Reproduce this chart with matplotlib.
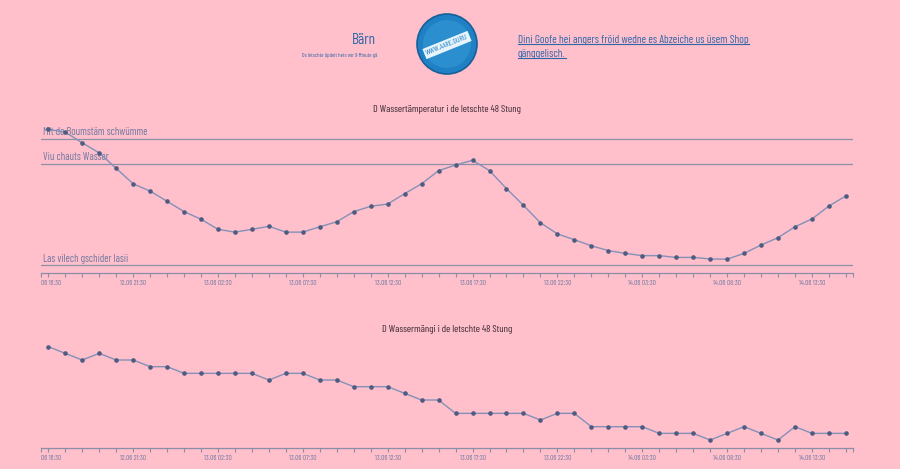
import matplotlib
matplotlib.use("Agg")
import matplotlib.pyplot as plt
import matplotlib.dates as mdates
import pandas as pd
from matplotlib.transforms import Bbox, TransformedBbox, blended_transform_factory
from matplotlib.patches import Circle
from matplotlib.lines import Line2D

# ---------------- data ----------------
times = pd.date_range("2024-06-12 16:30", periods=48, freq="h")
temperature = [20.36, 20.25, 19.83, 19.43, 18.82, 18.21, 17.92, 17.52, 17.11, 16.81,
               16.41, 16.30, 16.41, 16.53, 16.30, 16.30, 16.51, 16.71, 17.11, 17.32,
               17.41, 17.82, 18.21, 18.73, 18.95, 19.14, 18.73, 18.02, 17.36, 16.67,
               16.23, 16.00, 15.76, 15.57, 15.46, 15.37, 15.37, 15.30, 15.30, 15.24,
               15.23, 15.46, 15.79, 16.08, 16.51, 16.82, 17.33, 17.73]
flow = [262, 261, 260, 261, 260, 260, 259, 259, 258, 258,
        258, 258, 258, 257, 258, 258, 257, 257, 256, 256,
        256, 255, 254, 254, 252, 252, 252, 252, 252, 251,
        252, 252, 250, 250, 250, 250, 249, 249, 249, 248,
        249, 250, 249, 248, 250, 249, 249, 249]
thresholds = [20.0, 19.0, 15.0]
threshold_labels = ["Mit de Boumstäm schwümme", "Viu chauts Wasser", "Las vilech gschider lasii"]
title_temp = "D Wassertämperatur i de letschte 48 Stung"
title_flow = "D Wassermängi i de letschte 48 Stung"
city = "Bärn"
updated = "Ds letschte üpdeit hets vor 9 Minute gä"
shop_lines = ["Dini Goofe hei angers fröid wedne es Abzeiche us üsem Shop", "gänggelisch."]
logo_text = "WWW.AARE.GURU"
label_every = 5

# ---------------- style ----------------
W, H = 900, 469
BG = "#FFBFCB"
LINE = "#8391b8"
MARK = "#4f5b80"
REF = "#8c90a8"
REFTXT = "#6f78a0"
AXIS = "#8a8fa8"
TICKTXT = "#737ba2"
TITLE = "#3a2a32"
BLUE = "#2f66a8"
FONT = ["Barlow Condensed", "Roboto Condensed", "DejaVu Sans"]
plt.rcParams["font.family"] = FONT

fig = plt.figure(figsize=(W / 100, H / 100), dpi=100, facecolor=BG)


def fx(px):
    return px / W


def fy(py):
    return 1 - py / H


hour = 1 / 24.0
t0 = mdates.date2num(times[0])
t1 = mdates.date2num(times[-1])
xmin, xmax = t0 - 0.43 * hour, t1 + 0.42 * hour
xnum = mdates.date2num(times)

labels_all = [t.strftime("%d.%m %H:%M") if i % label_every == 0 else "" for i, t in enumerate(times)]


def setup_axis(ax):
    ax.set_facecolor("none")
    for s in ("top", "right", "left"):
        ax.spines[s].set_visible(False)
    ax.spines["bottom"].set_color(AXIS)
    ax.spines["bottom"].set_linewidth(0.9)
    ax.set_xlim(xmin, xmax)
    ax.set_xticks(list(xnum) + [xmin, xmax])
    ax.set_xticklabels(labels_all + ["", ""])
    ax.tick_params(axis="x", direction="out", length=3.2, width=0.8, color=AXIS,
                   labelsize=5.2, labelcolor=TICKTXT, pad=2.0)
    ax.set_yticks([])
    clipbox = TransformedBbox(Bbox.from_extents(fx(41), 0, 1, 1), fig.transFigure)
    lab = ax.get_xticklabels()[0]
    lab.set_clip_on(True)
    lab.set_clip_box(clipbox)


# ---------------- temperature chart ----------------
ax1 = fig.add_axes([fx(41), fy(273), fx(812), (273 - 125) / H])
setup_axis(ax1)
ax1.set_ylim(14.684, 20.534)
trans = blended_transform_factory(ax1.transAxes, ax1.transData)
for t, lab in zip(thresholds, threshold_labels):
    ax1.axhline(t, color=REF, lw=0.9, zorder=1)
    ax1.annotate(lab, xy=(0.0025, t), xycoords=trans, xytext=(0, 1.0),
                 textcoords="offset points", ha="left", va="bottom",
                 fontsize=7.6, color=REFTXT, zorder=2)
ax1.plot(xnum, temperature, color=LINE, lw=1.0, zorder=3, clip_on=False)
ax1.plot(xnum, temperature, ls="none", marker="o", ms=2.3, color=MARK, zorder=4, clip_on=False)
fig.text(fx(447), fy(110), title_temp, ha="center", va="center", fontsize=7.4, color=TITLE)

# ---------------- flow chart ----------------
ax2 = fig.add_axes([fx(41), fy(448), fx(812), (448 - 340) / H])
setup_axis(ax2)
ax2.set_ylim(246.805, 263.0)
ax2.plot(xnum, flow, color=LINE, lw=1.0, zorder=3, clip_on=False)
ax2.plot(xnum, flow, ls="none", marker="o", ms=2.3, color=MARK, zorder=4, clip_on=False)
fig.text(fx(447), fy(330), title_flow, ha="center", va="center", fontsize=7.4, color=TITLE)

# ---------------- header ----------------
fig.text(fx(376), fy(40), city, ha="right", va="center", fontsize=11, color=BLUE)
fig.text(fx(377), fy(56), updated, ha="right", va="center", fontsize=4.1, color=BLUE)

# logo
cx, cy, r = 447, 44, 30
circ = Circle((cx / 100, (H - cy) / 100), r / 100, transform=fig.dpi_scale_trans,
              facecolor="#1f80c4", edgecolor="#16609a", lw=1.2, zorder=5)
fig.add_artist(circ)
inner = Circle((cx / 100, (H - cy) / 100), (r - 6) / 100, transform=fig.dpi_scale_trans,
               facecolor="#3aa0dc", edgecolor="none", alpha=0.45, zorder=5)
fig.add_artist(inner)
fig.text(fx(cx), fy(cy + 1), logo_text, ha="center", va="center", fontsize=5.6,
         color="#1f80c4", rotation=22, zorder=6,
         bbox=dict(boxstyle="square,pad=0.25", facecolor="#e8f4fb", edgecolor="none"))

# link text
link_objs = []
for i, line in enumerate(shop_lines):
    link_objs.append(fig.text(fx(518), fy(40 + i * 14), line, ha="left", va="center",
                              fontsize=8.1, color=BLUE))

fig.canvas.draw()
renderer = fig.canvas.get_renderer()
for tobj in link_objs:
    bb = tobj.get_window_extent(renderer)
    yline = bb.y0 + 1.0
    fig.add_artist(Line2D([bb.x0 / W, bb.x1 / W], [yline / H, yline / H],
                          transform=fig.transFigure, color=BLUE, lw=0.8))

fig.savefig("out.png", dpi=100, facecolor=BG)
